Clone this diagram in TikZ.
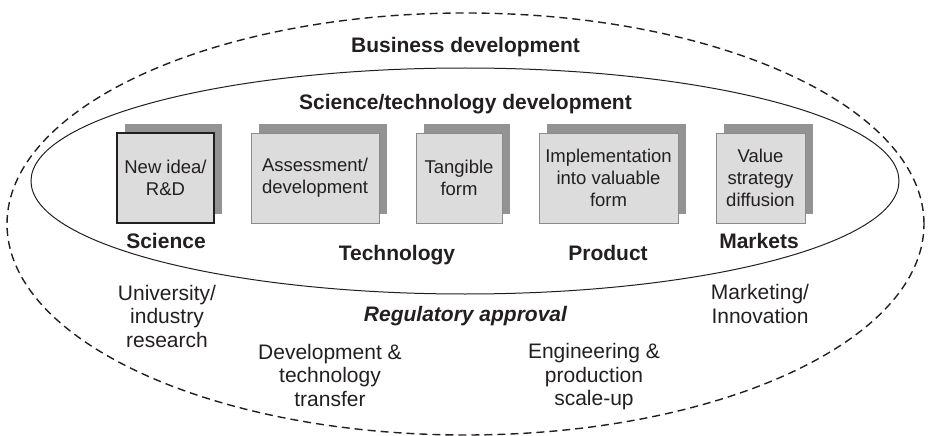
\documentclass[tikz,border=0pt]{standalone}
\usepackage{fontspec}
\setmainfont{Liberation Sans}
\usetikzlibrary{shadows}
\definecolor{ink}{HTML}{231F20}
\definecolor{boxfill}{HTML}{DCDCDC}
\definecolor{boxline}{HTML}{8A8A8A}
\definecolor{shade}{HTML}{939393}
\begin{document}
\begin{tikzpicture}[x=1pt,y=-1pt,
  stagebox/.style={draw=boxline, line width=1pt, fill=boxfill,
    minimum height=90pt, inner sep=0pt, align=center, text=ink,
    font=\fontsize{18.5}{22}\selectfont,
    general shadow={fill=shade, draw=none, shadow xshift=8pt, shadow yshift=9pt}},
  firstbox/.style={stagebox, draw=ink, line width=1.3pt},
  heading/.style={anchor=base, inner sep=0pt, text=ink,
    font=\fontsize{21}{24}\selectfont\bfseries},
  slanted/.style={heading, font=\fontsize{21}{24}\selectfont\bfseries\itshape},
  note/.style={inner sep=0pt, align=center, text=ink,
    font=\fontsize{21}{23.5}\selectfont}]
\useasboundingbox (0,0) rectangle (930,436);

% business development boundary (dashed) and science/technology boundary
\draw[ink, line width=1.4pt, dash pattern=on 8pt off 5pt]
  (465.5,224) ellipse [x radius=458.5pt, y radius=211pt];
\draw[ink, line width=1pt]
  (465,181) ellipse [x radius=434pt, y radius=113pt];

\node[heading] (business) at (465.5,53) {Business development};
\node[heading] (scitech) at (465.5,110) {Science/technology development};

% stages
\node[firstbox, minimum width=97pt] (idea) at (165.5,178) {New idea/\\R\&D};
\node[stagebox, minimum width=128pt] (assess) at (315,178) {Assessment/\\development};
\node[stagebox, minimum width=86pt] (tangible) at (459,178) {Tangible\\form};
\node[stagebox, minimum width=139pt] (implement) at (608.5,178) {Implementation\\into valuable\\form};
\node[stagebox, minimum width=89pt] (value) at (760.5,178) {Value\\strategy\\diffusion};

% stage categories
\node[heading] (science) at (166,248) {Science};
\node[heading] (technology) at (397,260) {Technology};
\node[heading] (product) at (608,260) {Product};
\node[heading] (markets) at (759,248) {Markets};

\node[slanted] (regulatory) at (465.5,321) {Regulatory approval};

% activities
\node[note] (research) at (167,316) {University/\\industry\\research};
\node[note] (transfer) at (330,375) {Development \&\\technology\\transfer};
\node[note] (scaleup) at (594,377) {Engineering \&\\production\\scale-up};
\node[note] (marketing) at (760,304) {Marketing/\\Innovation};
\end{tikzpicture}
\end{document}
